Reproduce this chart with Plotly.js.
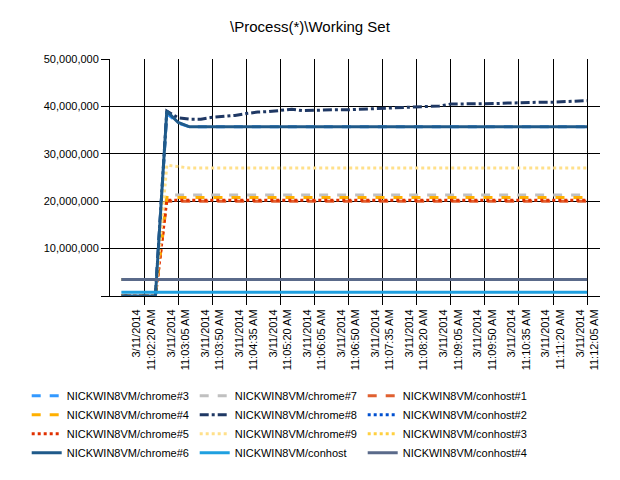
<!DOCTYPE html>
<html>
<head>
<script src="https://cdn.plot.ly/plotly-3.0.1.min.js"></script>
<style>body{margin:0}#chart{width:620px;height:480px}</style>
</head>
<body>
<div id="chart"></div>
<script>
// Sample times (15 s apart)
const times = ['2014-03-11 11:01:50','2014-03-11 11:02:05','2014-03-11 11:02:20','2014-03-11 11:02:35',
  '2014-03-11 11:02:50','2014-03-11 11:03:05','2014-03-11 11:03:20','2014-03-11 11:03:35','2014-03-11 11:03:50',
  '2014-03-11 11:04:05','2014-03-11 11:04:20','2014-03-11 11:04:35','2014-03-11 11:04:50','2014-03-11 11:05:05',
  '2014-03-11 11:05:20','2014-03-11 11:05:35','2014-03-11 11:05:50','2014-03-11 11:06:05','2014-03-11 11:06:20',
  '2014-03-11 11:06:35','2014-03-11 11:06:50','2014-03-11 11:07:05','2014-03-11 11:07:20','2014-03-11 11:07:35',
  '2014-03-11 11:07:50','2014-03-11 11:08:05','2014-03-11 11:08:20','2014-03-11 11:08:35','2014-03-11 11:08:50',
  '2014-03-11 11:09:05','2014-03-11 11:09:20','2014-03-11 11:09:35','2014-03-11 11:09:50','2014-03-11 11:10:05',
  '2014-03-11 11:10:20','2014-03-11 11:10:35','2014-03-11 11:10:50','2014-03-11 11:11:05','2014-03-11 11:11:20',
  '2014-03-11 11:11:35','2014-03-11 11:11:50','2014-03-11 11:12:05'];

const tickTimes = ['2014-03-11 11:02:20','2014-03-11 11:03:05','2014-03-11 11:03:50','2014-03-11 11:04:35',
  '2014-03-11 11:05:20','2014-03-11 11:06:05','2014-03-11 11:06:50','2014-03-11 11:07:35','2014-03-11 11:08:20',
  '2014-03-11 11:09:05','2014-03-11 11:09:50','2014-03-11 11:10:35','2014-03-11 11:11:20','2014-03-11 11:12:05'];
const tickLabels = ['3/11/2014<br>11:02:20 AM','3/11/2014<br>11:03:05 AM','3/11/2014<br>11:03:50 AM','3/11/2014<br>11:04:35 AM',
  '3/11/2014<br>11:05:20 AM','3/11/2014<br>11:06:05 AM','3/11/2014<br>11:06:50 AM','3/11/2014<br>11:07:35 AM','3/11/2014<br>11:08:20 AM',
  '3/11/2014<br>11:09:05 AM','3/11/2014<br>11:09:50 AM','3/11/2014<br>11:10:35 AM','3/11/2014<br>11:11:20 AM','3/11/2014<br>11:12:05 AM'];

// Working set values (bytes)
const chrome3 = [0,0,0,0,38.5e6,36.5e6,35.7e6,35.7e6,35.7e6,35.7e6,35.7e6,35.7e6,35.7e6,35.7e6,35.7e6,35.7e6,35.7e6,35.7e6,35.7e6,35.7e6,35.7e6,35.7e6,35.7e6,35.7e6,35.7e6,35.7e6,35.7e6,35.7e6,35.7e6,35.7e6,35.7e6,35.7e6,35.7e6,35.7e6,35.7e6,35.7e6,35.7e6,35.7e6,35.7e6,35.7e6,35.7e6,35.7e6];
const chrome4 = [0,0,0,0,20.8e6,20.8e6,20.8e6,20.8e6,20.8e6,20.8e6,20.8e6,20.8e6,20.8e6,20.8e6,20.8e6,20.8e6,20.8e6,20.8e6,20.8e6,20.8e6,20.8e6,20.8e6,20.8e6,20.8e6,20.8e6,20.8e6,20.8e6,20.8e6,20.8e6,20.8e6,20.8e6,20.8e6,20.8e6,20.8e6,20.8e6,20.8e6,20.8e6,20.8e6,20.8e6,20.8e6,20.8e6,20.8e6];
const chrome5 = [0,0,0,0,20.2e6,20.2e6,20.2e6,20.2e6,20.2e6,20.2e6,20.2e6,20.2e6,20.2e6,20.2e6,20.2e6,20.2e6,20.2e6,20.2e6,20.2e6,20.2e6,20.2e6,20.2e6,20.2e6,20.2e6,20.2e6,20.2e6,20.2e6,20.2e6,20.2e6,20.2e6,20.2e6,20.2e6,20.2e6,20.2e6,20.2e6,20.2e6,20.2e6,20.2e6,20.2e6,20.2e6,20.2e6,20.2e6];
const chrome6 = [0,0,0,0,39.0e6,36.6e6,35.7e6,35.7e6,35.7e6,35.7e6,35.7e6,35.7e6,35.7e6,35.7e6,35.7e6,35.7e6,35.7e6,35.7e6,35.7e6,35.7e6,35.7e6,35.7e6,35.7e6,35.7e6,35.7e6,35.7e6,35.7e6,35.7e6,35.7e6,35.7e6,35.7e6,35.7e6,35.7e6,35.7e6,35.7e6,35.7e6,35.7e6,35.7e6,35.7e6,35.7e6,35.7e6,35.7e6];
const chrome7 = [0,0,0,0,21.3e6,21.3e6,21.3e6,21.3e6,21.3e6,21.3e6,21.3e6,21.3e6,21.3e6,21.3e6,21.3e6,21.3e6,21.3e6,21.3e6,21.3e6,21.3e6,21.3e6,21.3e6,21.3e6,21.3e6,21.3e6,21.3e6,21.3e6,21.3e6,21.3e6,21.3e6,21.3e6,21.3e6,21.3e6,21.3e6,21.3e6,21.3e6,21.3e6,21.3e6,21.3e6,21.3e6,21.3e6,21.3e6];
const chrome8 = [0,0,0,0,39.0e6,37.6e6,37.3e6,37.3e6,37.7e6,37.9e6,38.1e6,38.5e6,38.8e6,38.9e6,39.2e6,39.4e6,39.1e6,39.2e6,39.2e6,39.3e6,39.3e6,39.4e6,39.5e6,39.6e6,39.8e6,39.9e6,40.0e6,40.1e6,40.1e6,40.5e6,40.5e6,40.5e6,40.6e6,40.6e6,40.7e6,40.8e6,40.8e6,40.9e6,40.9e6,41.0e6,41.1e6,41.2e6];
const chrome9 = [0,0,0,0,27.6e6,27.3e6,27.0e6,27.0e6,27.0e6,27.0e6,27.0e6,27.0e6,27.0e6,27.0e6,27.0e6,27.0e6,27.0e6,27.0e6,27.0e6,27.0e6,27.0e6,27.0e6,27.0e6,27.0e6,27.0e6,27.0e6,27.0e6,27.0e6,27.0e6,27.0e6,27.0e6,27.0e6,27.0e6,27.0e6,27.0e6,27.0e6,27.0e6,27.0e6,27.0e6,27.0e6,27.0e6,27.0e6];
const conhost = [0.8e6,0.8e6,0.8e6,0.8e6,0.8e6,0.8e6,0.8e6,0.8e6,0.8e6,0.8e6,0.8e6,0.8e6,0.8e6,0.8e6,0.8e6,0.8e6,0.8e6,0.8e6,0.8e6,0.8e6,0.8e6,0.8e6,0.8e6,0.8e6,0.8e6,0.8e6,0.8e6,0.8e6,0.8e6,0.8e6,0.8e6,0.8e6,0.8e6,0.8e6,0.8e6,0.8e6,0.8e6,0.8e6,0.8e6,0.8e6,0.8e6,0.8e6];
const conhost1 = [0,0,0,0,20.0e6,20.0e6,20.0e6,20.0e6,20.0e6,20.0e6,20.0e6,20.0e6,20.0e6,20.0e6,20.0e6,20.0e6,20.0e6,20.0e6,20.0e6,20.0e6,20.0e6,20.0e6,20.0e6,20.0e6,20.0e6,20.0e6,20.0e6,20.0e6,20.0e6,20.0e6,20.0e6,20.0e6,20.0e6,20.0e6,20.0e6,20.0e6,20.0e6,20.0e6,20.0e6,20.0e6,20.0e6,20.0e6];
const conhost2 = [3.5e6,3.5e6,3.5e6,3.5e6,3.5e6,3.5e6,3.5e6,3.5e6,3.5e6,3.5e6,3.5e6,3.5e6,3.5e6,3.5e6,3.5e6,3.5e6,3.5e6,3.5e6,3.5e6,3.5e6,3.5e6,3.5e6,3.5e6,3.5e6,3.5e6,3.5e6,3.5e6,3.5e6,3.5e6,3.5e6,3.5e6,3.5e6,3.5e6,3.5e6,3.5e6,3.5e6,3.5e6,3.5e6,3.5e6,3.5e6,3.5e6,3.5e6];
const conhost3 = [3.5e6,3.5e6,3.5e6,3.5e6,3.5e6,3.5e6,3.5e6,3.5e6,3.5e6,3.5e6,3.5e6,3.5e6,3.5e6,3.5e6,3.5e6,3.5e6,3.5e6,3.5e6,3.5e6,3.5e6,3.5e6,3.5e6,3.5e6,3.5e6,3.5e6,3.5e6,3.5e6,3.5e6,3.5e6,3.5e6,3.5e6,3.5e6,3.5e6,3.5e6,3.5e6,3.5e6,3.5e6,3.5e6,3.5e6,3.5e6,3.5e6,3.5e6];
const conhost4 = [3.5e6,3.5e6,3.5e6,3.5e6,3.5e6,3.5e6,3.5e6,3.5e6,3.5e6,3.5e6,3.5e6,3.5e6,3.5e6,3.5e6,3.5e6,3.5e6,3.5e6,3.5e6,3.5e6,3.5e6,3.5e6,3.5e6,3.5e6,3.5e6,3.5e6,3.5e6,3.5e6,3.5e6,3.5e6,3.5e6,3.5e6,3.5e6,3.5e6,3.5e6,3.5e6,3.5e6,3.5e6,3.5e6,3.5e6,3.5e6,3.5e6,3.5e6];

// legend is row-major, 3 columns
const series = [
  ['NICKWIN8VM/chrome#3', chrome3, '#3399ff', 'dash'],
  ['NICKWIN8VM/chrome#7', chrome7, '#c0c0c0', 'dash'],
  ['NICKWIN8VM/conhost#1', conhost1, '#e06030', 'dash'],
  ['NICKWIN8VM/chrome#4', chrome4, '#ffb000', 'dash'],
  ['NICKWIN8VM/chrome#8', chrome8, '#1f3864', 'dashdot'],
  ['NICKWIN8VM/conhost#2', conhost2, '#0050d0', 'dot'],
  ['NICKWIN8VM/chrome#5', chrome5, '#e03000', 'dot'],
  ['NICKWIN8VM/chrome#9', chrome9, '#ffe08a', 'dot'],
  ['NICKWIN8VM/conhost#3', conhost3, '#ffd040', 'dot'],
  ['NICKWIN8VM/chrome#6', chrome6, '#1f5a8a', 'solid'],
  ['NICKWIN8VM/conhost', conhost, '#1fa0e0', 'solid'],
  ['NICKWIN8VM/conhost#4', conhost4, '#5a6a8a', 'solid']
];

const traces = series.map(s => ({
  x: times, y: s[1], name: s[0], type: 'scatter', mode: 'lines',
  line: { color: s[2], dash: s[3], width: 3 }
}));

Plotly.newPlot('chart', traces, {
  width: 620, height: 480,
  margin: { l: 110, r: 20, t: 59, b: 170 },
  paper_bgcolor: '#fff', plot_bgcolor: '#fff',
  font: { family: 'Liberation Sans, Arial, sans-serif', size: 11, color: '#000' },
  title: { text: '\\Process(*)\\Working Set', x: 0.5, y: 0.955, font: { size: 15 } },
  showlegend: true,
  legend: { orientation: 'h', x: -0.17, xanchor: 'left', y: -0.36, yanchor: 'top',
    entrywidth: 123, entrywidthmode: 'pixels', font: { size: 11 }, tracegroupgap: 0,
    itemwidth: 30 },
  xaxis: {
    type: 'date', range: ['2014-03-11 11:01:35', '2014-03-11 11:12:22'],
    tickvals: tickTimes, ticktext: tickLabels, tickangle: -90,
    showgrid: true, gridcolor: '#000', gridwidth: 1,
    showline: true, linecolor: '#000', ticks: 'outside', ticklen: 8, tickcolor: '#000',
    zeroline: false, fixedrange: true
  },
  yaxis: {
    range: [0, 50e6], tickvals: [0, 10e6, 20e6, 30e6, 40e6, 50e6],
    ticktext: ['', '10,000,000', '20,000,000', '30,000,000', '40,000,000', '50,000,000'],
    showgrid: true, gridcolor: '#000', gridwidth: 1,
    showline: true, linecolor: '#000', ticks: 'outside', ticklen: 8, tickcolor: '#000',
    zeroline: false
  }
}, { displayModeBar: false, staticPlot: true });
</script>
</body>
</html>
